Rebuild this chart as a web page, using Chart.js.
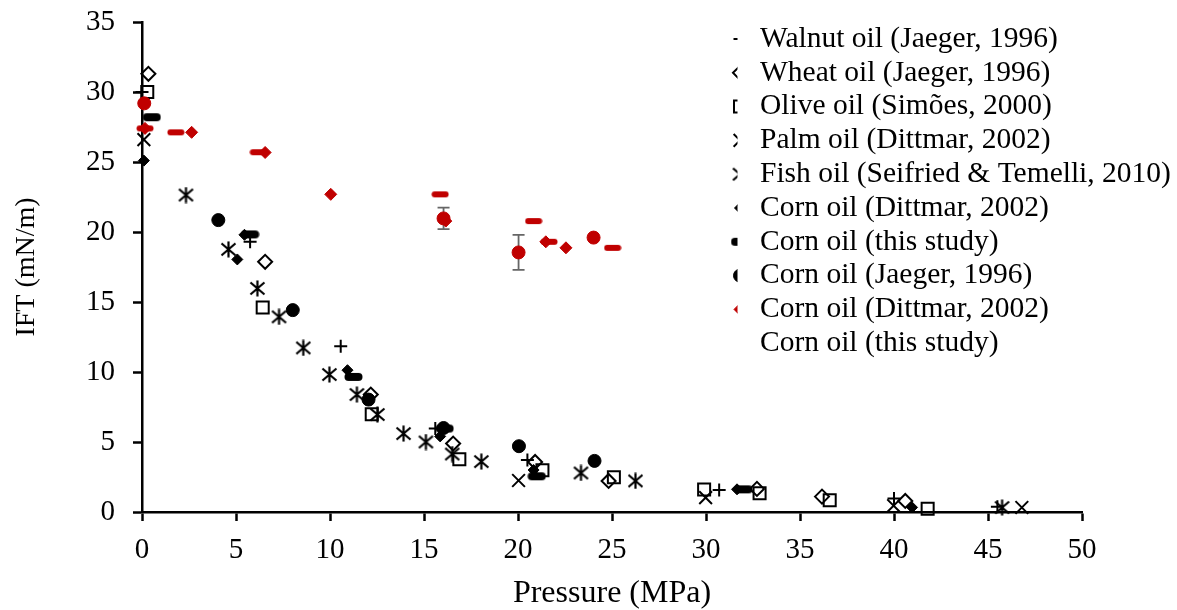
<!DOCTYPE html>
<html lang="en">
<head>
<meta charset="UTF-8" />
<title>IFT vs pressure</title>
<script src="https://cdn.jsdelivr.net/npm/chart.js"></script>
<style>
  body { margin: 0; background: #ffffff; }
  canvas { display: block; }
</style>
</head>
<body>
<canvas id="iftChart" width="1177" height="610"></canvas>
<script>
  // pressure (MPa) / IFT (mN/m) per oil
  const walnutP = [0, 5.75, 10.57, 15.6, 20.5, 30.7, 40.0, 45.5];
  const walnutIFT = [30.0, 19.3, 11.84, 5.96, 3.72, 1.58, 0.96, 0.38];

  const wheatP = [0.34, 6.55, 12.17, 16.55, 20.91, 24.82, 32.71, 36.17, 40.6];
  const wheatIFT = [31.3, 17.87, 8.39, 4.89, 3.57, 2.22, 1.65, 1.1, 0.79];

  const oliveP = [0.28, 6.42, 12.22, 16.88, 21.3, 25.1, 29.9, 32.85, 36.58, 41.79];
  const oliveIFT = [30.0, 14.6, 6.98, 3.77, 2.98, 2.48, 1.6, 1.34, 0.84, 0.24];

  const palmP = [0.1, 20.03, 29.98, 39.98, 46.8];
  const palmIFT = [26.6, 2.25, 1.03, 0.45, 0.32];

  const fishP = [2.34, 4.6, 6.14, 7.29, 8.58, 9.97, 11.43, 12.52, 13.91, 15.1, 16.5, 18.05, 23.35, 26.25, 45.75];
  const fishIFT = [22.64, 18.76, 15.97, 13.94, 11.72, 9.82, 8.39, 6.96, 5.6, 5.0, 4.14, 3.6, 2.79, 2.22, 0.32];

  const cornDittmarP = [0.1, 5.07, 5.45, 10.93, 15.86, 20.83, 31.65, 40.96];
  const cornDittmarIFT = [25.1, 18.04, 19.8, 10.13, 5.4, 3.0, 1.62, 0.33];

  const cornStudyP = [0.52, 5.75, 11.25, 16.1, 21.0, 32.0];
  const cornStudyIFT = [28.2, 19.83, 9.65, 5.96, 2.55, 1.62];

  const cornJaegerP = [4.06, 8.02, 12.05, 16.04, 20.05, 24.07];
  const cornJaegerIFT = [20.85, 14.42, 8.03, 6.0, 4.7, 3.65];

  // red series
  const redDiamondP = [0.16, 2.64, 6.55, 10.04, 16.16, 21.48, 22.55];
  const redDiamondIFT = [27.4, 27.12, 25.68, 22.69, 20.78, 19.3, 18.87];

  const redDashP = [0.16, 1.8, 6.19, 15.86, 20.83, 21.65, 25.03];
  const redDashIFT = [27.4, 27.12, 25.7, 22.69, 20.78, 19.3, 18.87];

  const redCircleP = [0.12, 16.04, 20.03, 24.02];
  const redCircleIFT = [29.19, 20.97, 18.54, 19.6];
  const redCircleErr = [0, 0.77, 1.25, 0];

  const RED = '#c00000';

  function pts(xs, ys) {
    return xs.map((x, i) => ({ x: x, y: ys[i] }));
  }

  // asterisk marker: an X with a vertical stroke
  function asteriskMarker() {
    const c = document.createElement('canvas');
    c.width = 17; c.height = 17;
    const g = c.getContext('2d');
    g.strokeStyle = '#000';
    g.lineWidth = 2.2;
    g.beginPath();
    g.moveTo(1.5, 2.5); g.lineTo(15.5, 14.5);
    g.moveTo(15.5, 2.5); g.lineTo(1.5, 14.5);
    g.moveTo(8.5, 0.5); g.lineTo(8.5, 16.5);
    g.stroke();
    return c;
  }

  // short thick bar marker
  function dashMarker(color, w, h) {
    const c = document.createElement('canvas');
    c.width = w + 1; c.height = h + 2;
    const g = c.getContext('2d');
    g.fillStyle = color;
    g.beginPath();
    g.roundRect(0.5, 1, w, h, h / 2);
    g.fill();
    return c;
  }

  const datasets = [
    { label: 'Walnut oil (Jaeger, 1996)', data: pts(walnutP, walnutIFT), pointStyle: 'cross',
      pointRadius: 6.5, pointBorderWidth: 2, pointBorderColor: '#000', pointBackgroundColor: '#000', legendRow: 0 },
    { label: 'Wheat oil (Jaeger, 1996)', data: pts(wheatP, wheatIFT), pointStyle: 'rectRot',
      pointRadius: 7, pointBorderWidth: 2, pointBorderColor: '#000', pointBackgroundColor: 'rgba(0,0,0,0)', legendRow: 1 },
    { label: 'Olive oil (Simões, 2000)', data: pts(oliveP, oliveIFT), pointStyle: 'rect',
      pointRadius: 8.5, pointBorderWidth: 2, pointBorderColor: '#000', pointBackgroundColor: 'rgba(0,0,0,0)', legendRow: 2 },
    { label: 'Palm oil (Dittmar, 2002)', data: pts(palmP, palmIFT), pointStyle: 'crossRot',
      pointRadius: 9, pointBorderWidth: 2, pointBorderColor: '#000', pointBackgroundColor: '#000', legendRow: 3 },
    { label: 'Fish oil (Seifried & Temelli, 2010)', data: pts(fishP, fishIFT), pointStyle: asteriskMarker(),
      pointRadius: 8, pointBorderWidth: 2, pointBorderColor: '#000', pointBackgroundColor: '#000', legendRow: 4 },
    { label: 'Corn oil (Dittmar, 2002)', data: pts(cornDittmarP, cornDittmarIFT), pointStyle: 'rectRot',
      pointRadius: 5.5, pointBorderWidth: 1, pointBorderColor: '#000', pointBackgroundColor: '#000', legendRow: 5 },
    { label: 'Corn oil (this study)', data: pts(cornStudyP, cornStudyIFT), pointStyle: dashMarker('#000', 18, 8),
      pointRadius: 8, pointBorderWidth: 0, pointBorderColor: '#000', pointBackgroundColor: '#000', legendRow: 6 },
    { label: 'Corn oil (Jaeger, 1996)', data: pts(cornJaegerP, cornJaegerIFT), pointStyle: 'circle',
      pointRadius: 6.5, pointBorderWidth: 1, pointBorderColor: '#000', pointBackgroundColor: '#000', legendRow: 7 },
    { label: 'Corn oil (Dittmar, 2002)', data: pts(redDiamondP, redDiamondIFT), pointStyle: 'rectRot',
      pointRadius: 6, pointBorderWidth: 1, pointBorderColor: RED, pointBackgroundColor: RED, legendRow: 8 },
    { label: 'Corn oil (this study)', data: pts(redCircleP, redCircleIFT), pointStyle: 'circle',
      pointRadius: 6.5, pointBorderWidth: 1, pointBorderColor: RED, pointBackgroundColor: RED, legendRow: 9,
      legendMarker: false, errors: redCircleErr },
    { label: 'Corn oil', data: pts(redDashP, redDashIFT), pointStyle: dashMarker(RED, 17, 6),
      pointRadius: 8, pointBorderWidth: 0, pointBorderColor: RED, pointBackgroundColor: RED }
  ];
  datasets.forEach((ds, i) => {
    ds.showLine = false;
    ds.order = -i;      // later series drawn on top
    ds.clip = false;
  });

  // vertical error bars, drawn under the markers
  const errorBars = {
    id: 'errorBars',
    beforeDatasetsDraw(chart) {
      const ctx = chart.ctx;
      const xs = chart.scales.x, ys = chart.scales.y;
      ctx.save();
      ctx.strokeStyle = '#666666';
      ctx.lineWidth = 1.8;
      chart.data.datasets.forEach(ds => {
        if (!ds.errors) return;
        ds.data.forEach((p, i) => {
          const e = ds.errors[i];
          if (!e) return;
          const px = xs.getPixelForValue(p.x);
          const top = ys.getPixelForValue(p.y + e);
          const bot = ys.getPixelForValue(p.y - e);
          ctx.beginPath();
          ctx.moveTo(px, top); ctx.lineTo(px, bot);
          ctx.moveTo(px - 6, top); ctx.lineTo(px + 6, top);
          ctx.moveTo(px - 6, bot); ctx.lineTo(px + 6, bot);
          ctx.stroke();
        });
      });
      ctx.restore();
    }
  };

  // legend on top of the plot, markers cut off at their left edge
  const sideLegend = {
    id: 'sideLegend',
    afterDraw(chart) {
      const ctx = chart.ctx;
      ctx.save();
      ctx.font = '29.5px "Liberation Serif"';
      ctx.textBaseline = 'middle';
      chart.data.datasets.forEach(ds => {
        if (ds.legendRow === undefined) return;
        const y = 39 + 33.8 * ds.legendRow;
        ctx.fillStyle = '#000';
        ctx.fillText(ds.label, 760, y);
        if (ds.legendMarker === false) return;
        ctx.save();
        ctx.beginPath();
        ctx.rect(731, y - 12, 6.5, 24);
        ctx.clip();
        ctx.fillStyle = ds.pointBackgroundColor;
        ctx.strokeStyle = ds.pointBorderColor;
        ctx.lineWidth = ds.pointBorderWidth;
        Chart.helpers.drawPoint(ctx, {
          pointStyle: ds.pointStyle, radius: ds.pointRadius, rotation: 0, borderWidth: ds.pointBorderWidth
        }, 740, y);
        ctx.restore();
      });
      ctx.restore();
    }
  };

  Chart.defaults.font.family = '"Liberation Serif", "Times New Roman", serif';
  Chart.defaults.color = '#000';

  const tickFont = { size: 29 };

  new Chart(document.getElementById('iftChart'), {
    type: 'scatter',
    data: { datasets: datasets },
    options: {
      responsive: false,
      animation: false,
      events: [],
      layout: { padding: { top: 22, right: 95, left: 0, bottom: 0 } },
      plugins: { legend: { display: false }, tooltip: { enabled: false } },
      scales: {
        x: {
          type: 'linear', min: 0, max: 50,
          ticks: { stepSize: 5, font: tickFont, padding: 12, color: '#000' },
          grid: { drawOnChartArea: false, drawTicks: true, tickLength: 9, tickWidth: 2.5, tickColor: '#000' },
          border: { color: '#000', width: 2.5 },
          title: { display: true, text: 'Pressure (MPa)', font: { size: 32, lineHeight: 1 }, color: '#000', padding: { top: 0, bottom: 0 } },
          afterFit: s => { s.height = 98; s.paddingLeft = 0; s.paddingRight = 0; }
        },
        y: {
          type: 'linear', min: 0, max: 35,
          ticks: { stepSize: 5, font: tickFont, padding: 18, color: '#000' },
          grid: { drawOnChartArea: false, drawTicks: true, tickLength: 9, tickWidth: 2.5, tickColor: '#000' },
          border: { color: '#000', width: 2.5 },
          title: { display: true, text: 'IFT (mN/m)', font: { size: 28 }, color: '#000', padding: { top: 10, bottom: 0 } },
          afterFit: s => { s.width = 142; s.paddingTop = 0; s.paddingBottom = 0; }
        }
      }
    },
    plugins: [errorBars, sideLegend]
  });
</script>
</body>
</html>
